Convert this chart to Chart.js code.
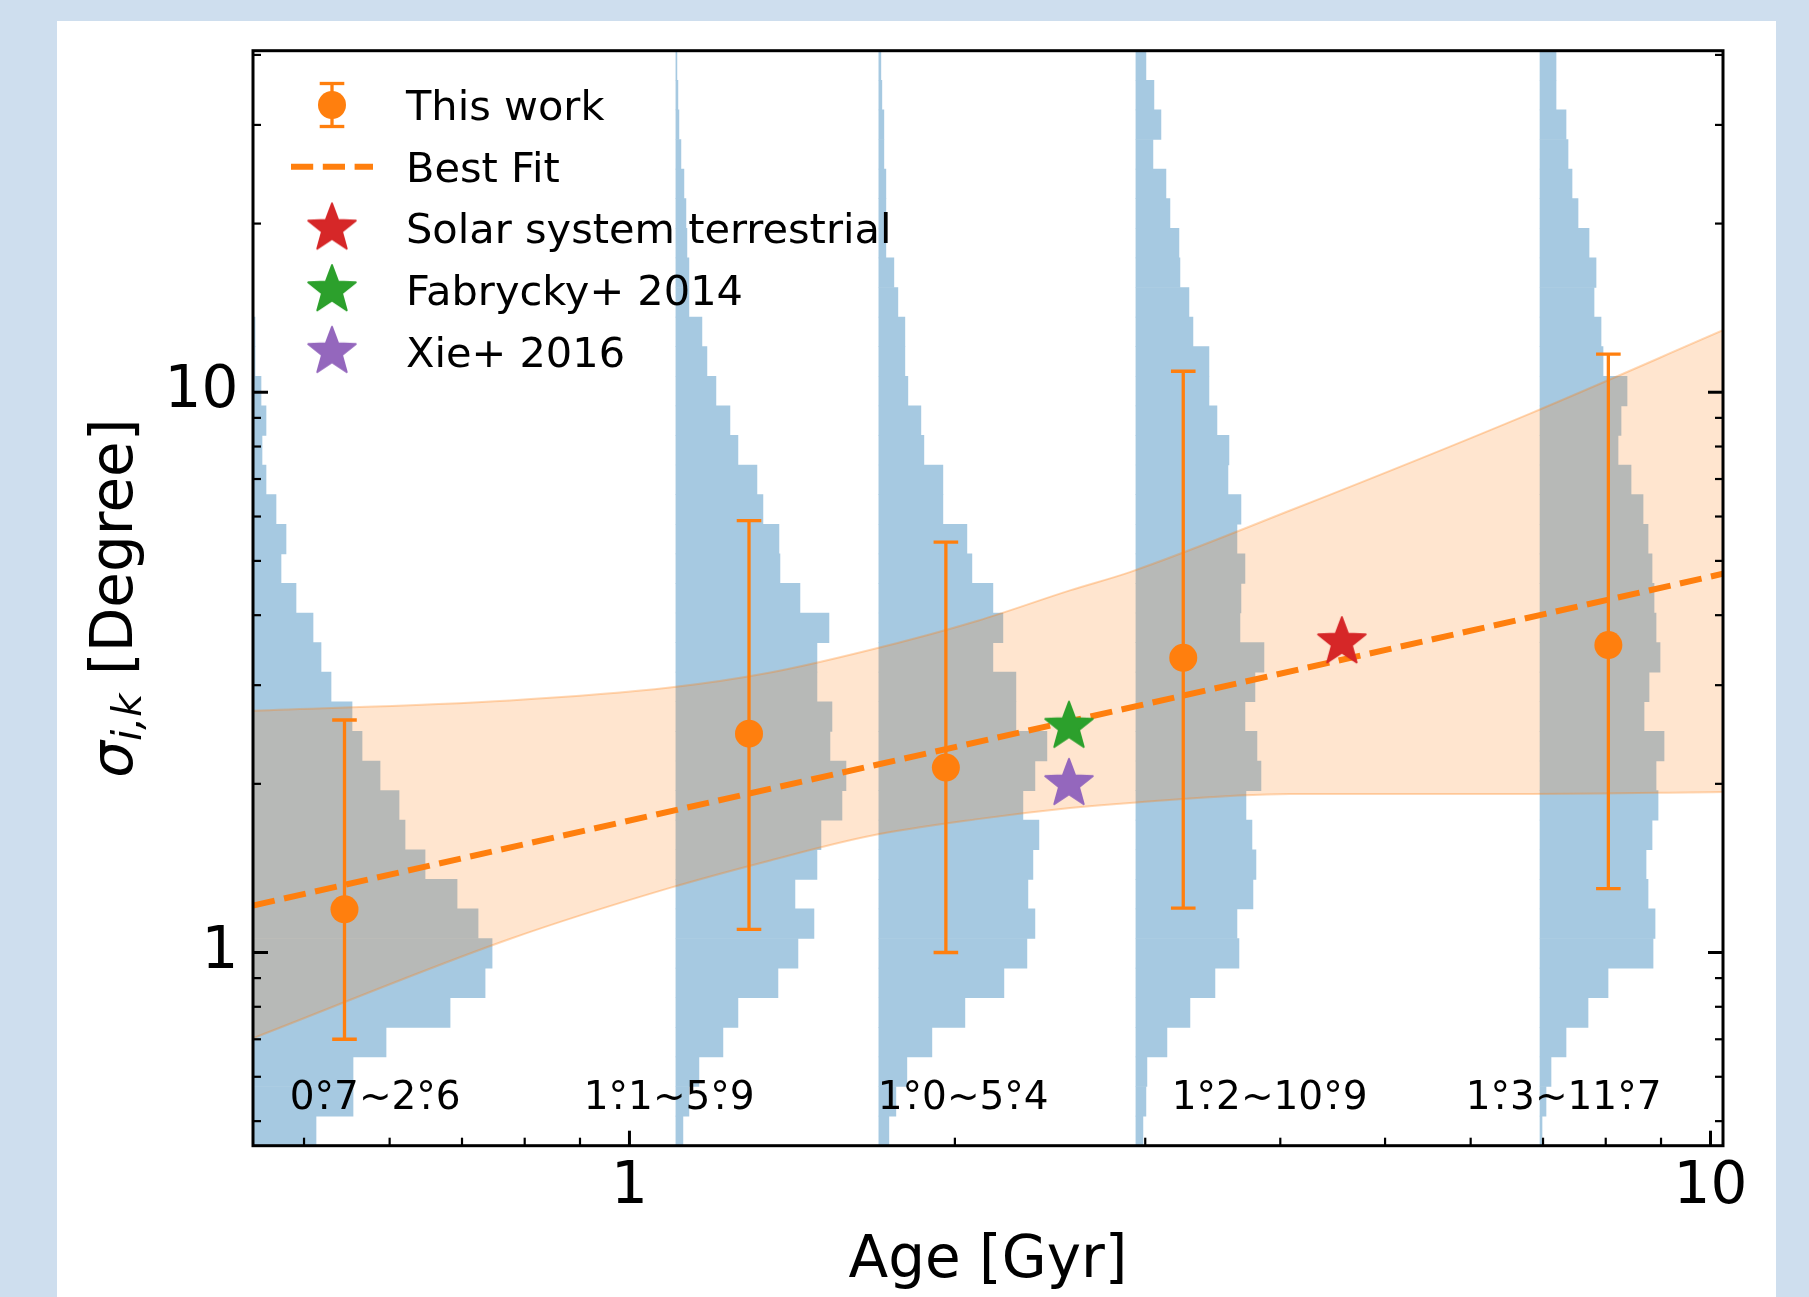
<!DOCTYPE html>
<html>
<head>
<meta charset="utf-8">
<script src="https://cdn.jsdelivr.net/npm/chart.js@4.4.1/dist/chart.umd.min.js"></script>
<style>
html,body{margin:0;padding:0;background:#cedeee;width:1809px;height:1297px;overflow:hidden;}
#panel{position:absolute;left:57px;top:21px;width:1719px;height:1276px;background:#ffffff;}
canvas{display:block;}
</style>
</head>
<body>
<div id="panel"><canvas id="c" width="1719" height="1276"></canvas></div>
<script>
// ---------------- data ----------------
const AGE      = [0.545, 1.290, 1.962, 3.253, 8.045];     // Gyr
const SIGMA    = [1.194, 2.458, 2.138, 3.357, 3.537];     // degree
const SIGMA_LO = [0.7, 1.1, 1.0, 1.2, 1.3];
const SIGMA_HI = [2.6, 5.9, 5.4, 10.9, 11.7];

const FIT_AGE   = [0.4485, 10.27];
const FIT_SIGMA = [1.213, 4.743];

const BAND_AGE   = [0.4485, 0.775, 1.09, 1.35, 1.668, 2.1, 2.556, 2.904, 4.083, 6.809, 10.27];
const BAND_UPPER = [2.70, 2.818, 2.971, 3.16, 3.466, 3.91, 4.43, 4.775, 6.149, 9.16, 12.9];
const BAND_LOWER = [0.703, 1.057, 1.304, 1.46, 1.614, 1.73, 1.811, 1.849, 1.919, 1.919, 1.934];

const SOLAR_AGE = [4.56],  SOLAR_SIGMA = [3.58];
const FAB_AGE   = [2.55],  FAB_SIGMA   = [2.53];
const XIE_AGE   = [2.55],  XIE_SIGMA   = [2.00];

// posterior histograms of sigma in each age bin (counts, listed from the highest sigma bin down)
const HIST_BASE_AGE = [0.4485, 1.104, 1.701, 2.941, 6.955];
const HIST_1 = [0,0,0,0,0,0,0,0,0,2,2,8,13,9,13,23,33,28,43,60,68,78,99,109,127,146,152,172,204,225,239,232,197,133,100,100,63];
const HIST_2 = [1,2,3,5,8,10,11,13,13,26,31,40,54,62,81,87,103,104,124,153,141,141,156,154,170,166,145,141,119,138,122,102,62,47,23,13,7];
const HIST_3 = [2,3,5,5,7,7,7,15,19,26,26,29,42,45,64,64,88,93,114,124,114,137,137,168,156,144,160,154,149,156,148,125,86,53,28,17,10];
const HIST_4 = [10,18,25,17,30,34,43,44,53,57,73,73,81,93,92,105,101,109,105,104,128,119,109,121,125,110,116,120,117,101,103,79,54,31,11,10,7];
const HIST_5 = [16,16,26,28,32,38,49,56,54,61,63,87,81,78,91,103,108,112,114,116,120,109,104,124,116,118,112,106,108,115,113,68,48,26,11,6,2];
const HIST_DEC_PER_COUNT = 1 / 1080.7;   // width of one count, in decades of age

const X_TICKS = [1, 10];
const Y_TICKS = [1, 10];
const X_MINOR = [0.5, 0.6, 0.7, 0.8, 0.9, 2, 3, 4, 5, 6, 7, 8, 9];
const Y_MINOR = [0.5, 0.6, 0.7, 0.8, 0.9, 2, 3, 4, 5, 6, 7, 8, 9, 20, 30, 40];

const XMIN = 0.4485, XMAX = 10.27, YMIN = 0.452, YMAX = 40.7;

const LEGEND_LABELS = ['This work', 'Best Fit', 'Solar system terrestrial', 'Fabrycky+ 2014', 'Xie+ 2016'];

// ---------------- styles ----------------
const C_ORANGE = '#ff7f0e', C_RED = '#d62728', C_GREEN = '#2ca02c', C_PURPLE = '#9467bd';
const C_HIST = '#a6c9e1';
const FONT = 'DejaVu Sans';
Chart.defaults.font.family = FONT;
Chart.defaults.color = '#000';

// ---------------- helpers ----------------
const nBins = HIST_1.length;
const lMin = Math.log10(YMIN), lMax = Math.log10(YMAX), lStep = (lMax - lMin) / nBins;
const BIN_CENTERS = HIST_1.map((_, j) => Math.pow(10, lMax - (j + 0.5) * lStep));

function histDataset(base, counts, label) {
  const data = [];
  counts.forEach((c, j) => {
    if (c > 0) data.push({ y: BIN_CENTERS[j], x: [base, base * Math.pow(10, c * HIST_DEC_PER_COUNT)] });
  });
  return {
    type: 'bar', label, data, indexAxis: 'y', xAxisID: 'x', yAxisID: 'yh',
    backgroundColor: C_HIST, borderWidth: 0, grouped: false,
    categoryPercentage: 1, barPercentage: 1, order: 10
  };
}

function starCanvas(color, R) {
  const s = Math.ceil(2 * R + 6);
  const c = document.createElement('canvas');
  c.width = c.height = s;
  const g = c.getContext('2d');
  g.translate(s / 2, s / 2);
  const r = R * 0.42;
  g.beginPath();
  for (let k = 0; k < 10; k++) {
    const ang = -Math.PI / 2 + k * Math.PI / 5;
    const rr = k % 2 === 0 ? R : r;
    const px = rr * Math.cos(ang), py = rr * Math.sin(ang);
    if (k === 0) g.moveTo(px, py); else g.lineTo(px, py);
  }
  g.closePath();
  g.fillStyle = color; g.strokeStyle = color; g.lineWidth = 2; g.lineJoin = 'round';
  g.fill(); g.stroke();
  return c;
}
const STAR_R = 25;
const starRed = starCanvas(C_RED, STAR_R), starGreen = starCanvas(C_GREEN, STAR_R), starPurple = starCanvas(C_PURPLE, STAR_R);

const errData = [];
AGE.forEach((a, i) => {
  errData.push({ x: a, y: SIGMA_LO[i] }, { x: a, y: SIGMA_HI[i] }, { x: a, y: null });
});

const datasets = [
  histDataset(HIST_BASE_AGE[0], HIST_1, 'hist1'),
  histDataset(HIST_BASE_AGE[1], HIST_2, 'hist2'),
  histDataset(HIST_BASE_AGE[2], HIST_3, 'hist3'),
  histDataset(HIST_BASE_AGE[3], HIST_4, 'hist4'),
  histDataset(HIST_BASE_AGE[4], HIST_5, 'hist5'),
  { type: 'line', label: 'band upper', data: BAND_AGE.map((a, i) => ({ x: a, y: BAND_UPPER[i] })),
    borderColor: 'rgba(255,127,14,0.30)', borderWidth: 2, backgroundColor: 'rgba(255,127,14,0.2)',
    fill: '+1', pointRadius: 0, cubicInterpolationMode: 'monotone', order: 8, xAxisID: 'x', yAxisID: 'y' },
  { type: 'line', label: 'band lower', data: BAND_AGE.map((a, i) => ({ x: a, y: BAND_LOWER[i] })),
    borderColor: 'rgba(255,127,14,0.30)', borderWidth: 2, fill: false, pointRadius: 0,
    cubicInterpolationMode: 'monotone', order: 7, xAxisID: 'x', yAxisID: 'y' },
  { type: 'line', label: LEGEND_LABELS[1], data: FIT_AGE.map((a, i) => ({ x: a, y: FIT_SIGMA[i] })),
    borderColor: C_ORANGE, borderWidth: 6, borderDash: [22.2, 9.6], pointRadius: 0, fill: false,
    order: 6, xAxisID: 'x', yAxisID: 'y' },
  { type: 'line', label: 'error bars', data: errData, borderColor: C_ORANGE, borderWidth: 3.3,
    spanGaps: false, fill: false, pointStyle: 'line', pointRadius: 12.3, pointBorderWidth: 3.3,
    pointBorderColor: C_ORANGE, order: 5, xAxisID: 'x', yAxisID: 'y' },
  { type: 'scatter', label: LEGEND_LABELS[0], data: AGE.map((a, i) => ({ x: a, y: SIGMA[i] })),
    backgroundColor: C_ORANGE, borderColor: C_ORANGE, pointRadius: 14, pointBorderWidth: 0,
    order: 4, xAxisID: 'x', yAxisID: 'y' },
  { type: 'scatter', label: LEGEND_LABELS[2], data: SOLAR_AGE.map((a, i) => ({ x: a, y: SOLAR_SIGMA[i] })),
    pointStyle: starRed, order: 3, xAxisID: 'x', yAxisID: 'y' },
  { type: 'scatter', label: LEGEND_LABELS[3], data: FAB_AGE.map((a, i) => ({ x: a, y: FAB_SIGMA[i] })),
    pointStyle: starGreen, order: 2, xAxisID: 'x', yAxisID: 'y' },
  { type: 'scatter', label: LEGEND_LABELS[4], data: XIE_AGE.map((a, i) => ({ x: a, y: XIE_SIGMA[i] })),
    pointStyle: starPurple, order: 1, xAxisID: 'x', yAxisID: 'y' }
];

// ---------------- decorations: frame, inward ticks, range labels, legend, y title ----------------
const decor = {
  id: 'decor',
  afterDatasetsDraw(chart) {
    const { ctx, chartArea: a, scales: { x, y } } = chart;
    const W = a.right - a.left, H = a.bottom - a.top;
    ctx.save();
    ctx.strokeStyle = '#000';
    const seg = (x1, y1, x2, y2, w) => { ctx.lineWidth = w; ctx.beginPath(); ctx.moveTo(x1, y1); ctx.lineTo(x2, y2); ctx.stroke(); };
    X_TICKS.forEach(v => { const p = x.getPixelForValue(v); seg(p, a.bottom, p, a.bottom - 15, 3); });
    X_MINOR.forEach(v => { const p = x.getPixelForValue(v); seg(p, a.bottom, p, a.bottom - 8, 2.2); });
    Y_TICKS.forEach(v => { const p = y.getPixelForValue(v); seg(a.left, p, a.left + 15, p, 3); seg(a.right, p, a.right - 15, p, 3); });
    Y_MINOR.forEach(v => { const p = y.getPixelForValue(v); seg(a.left, p, a.left + 8, p, 2.2); seg(a.right, p, a.right - 8, p, 2.2); });
    ctx.lineWidth = 3;
    ctx.strokeRect(a.left, a.top, W, H);

    // range labels at the bottom of each age bin
    ctx.fillStyle = '#000';
    ctx.font = '39px "' + FONT + '"';
    ctx.textBaseline = 'alphabetic';
    ctx.textAlign = 'left';
    const ly = a.bottom - 0.0332 * H;
    SIGMA_LO.forEach((lo, i) => {
      const [li, lf] = lo.toFixed(1).split('.');
      const [hi, hf] = SIGMA_HI[i].toFixed(1).split('.');
      const s1 = li + '°', s2 = lf + '~' + hi + '°';
      const txt = s1 + s2 + hf;
      const lx = a.left + (0.025 + 0.2 * i) * W;
      ctx.fillText(txt, lx, ly);
      const dw = ctx.measureText('.').width, gw = ctx.measureText('°').width;
      const d1 = lx + ctx.measureText(s1).width - gw / 2 - dw / 2;
      const d2 = lx + ctx.measureText(s1 + s2).width - gw / 2 - dw / 2;
      ctx.fillText('.', d1, ly);
      ctx.fillText('.', d2, ly);
    });

    // legend
    const fs = 41.5;
    ctx.font = fs + 'px "' + FONT + '"';
    const tx = a.left + 153, mx = a.left + 79;
    const b0 = a.top + 69.3, dy = 61.7;
    LEGEND_LABELS.forEach((lab, i) => {
      const by = b0 + i * dy, my = by - 15;
      ctx.fillStyle = '#000';
      ctx.fillText(lab, tx, by);
      if (i === 0) {
        ctx.strokeStyle = C_ORANGE;
        seg(mx, my - 21.5, mx, my + 21.5, 3.3);
        seg(mx - 12.3, my - 21.5, mx + 12.3, my - 21.5, 3.3);
        seg(mx - 12.3, my + 21.5, mx + 12.3, my + 21.5, 3.3);
        ctx.fillStyle = C_ORANGE;
        ctx.beginPath(); ctx.arc(mx, my, 14, 0, Math.PI * 2); ctx.fill();
      } else if (i === 1) {
        ctx.strokeStyle = C_ORANGE;
        ctx.setLineDash([22.2, 9.6]);
        seg(mx - 41, my, mx + 41, my, 6);
        ctx.setLineDash([]);
      } else {
        const img = [starRed, starGreen, starPurple][i - 2];
        ctx.drawImage(img, mx - img.width / 2, my - img.height / 2);
      }
    });
    ctx.restore();
  },
  afterDraw(chart) {
    const { ctx, chartArea: a } = chart;
    ctx.save();
    ctx.translate(a.left - 121.3, (a.top + a.bottom) / 2);
    ctx.rotate(-Math.PI / 2);
    ctx.fillStyle = '#000';
    ctx.textBaseline = 'alphabetic';
    const fIt = 'italic 58px "' + FONT + '"', fSub = 'italic 40.6px "' + FONT + '"', fMain = '58px "' + FONT + '"';
    ctx.font = fIt; const w1 = ctx.measureText('σ').width;
    ctx.font = fSub; const w2 = ctx.measureText('i,k').width;
    ctx.font = fMain; const w3 = ctx.measureText(' [Degree]').width;
    let cx = -(w1 + w2 + w3) / 2;
    ctx.font = fIt; ctx.fillText('σ', cx, 0); cx += w1;
    ctx.font = fSub; ctx.fillText('i,k', cx, 9); cx += w2;
    ctx.font = fMain; ctx.fillText(' [Degree]', cx, 0);
    ctx.restore();
  }
};

new Chart(document.getElementById('c'), {
  type: 'scatter',
  data: { datasets },
  options: {
    responsive: false,
    animation: false,
    events: [],
    layout: { padding: { left: 0, top: 29.7, right: 53, bottom: 0 } },
    plugins: { legend: { display: false }, tooltip: { enabled: false } },
    scales: {
      x: {
        type: 'logarithmic', position: 'bottom', min: XMIN, max: XMAX, bounds: 'data',
        grid: { display: false, drawTicks: false }, border: { display: false },
        ticks: { autoSkip: false, maxRotation: 0, padding: 7.5, color: '#000',
                 font: { size: 58, family: FONT }, callback: v => String(v) },
        afterBuildTicks: s => { s.ticks = X_TICKS.map(v => ({ value: v })); },
        afterFit: s => { s.height = 151.3; s.paddingLeft = 0; s.paddingRight = 0; },
        title: { display: true, text: 'Age [Gyr]', color: '#000',
                 font: { size: 58, family: FONT, lineHeight: 1.2 }, padding: { top: 0, bottom: 0.5 } }
      },
      y: {
        type: 'logarithmic', position: 'left', min: YMIN, max: YMAX, bounds: 'data',
        grid: { display: false, drawTicks: false }, border: { display: false },
        ticks: { autoSkip: false, padding: 14.6, color: '#000',
                 font: { size: 58, family: FONT }, callback: v => String(v) },
        afterBuildTicks: s => { s.ticks = Y_TICKS.map(v => ({ value: v })); },
        afterFit: s => { s.width = 196; s.paddingTop = 0; s.paddingBottom = 0; }
      },
      yh: {
        type: 'logarithmic', position: 'left', display: false, min: YMIN, max: YMAX, bounds: 'data',
        ticks: { display: false },
        afterBuildTicks: s => { s.ticks = BIN_CENTERS.map(v => ({ value: v })); }
      }
    }
  },
  plugins: [decor]
});
</script>
</body>
</html>
